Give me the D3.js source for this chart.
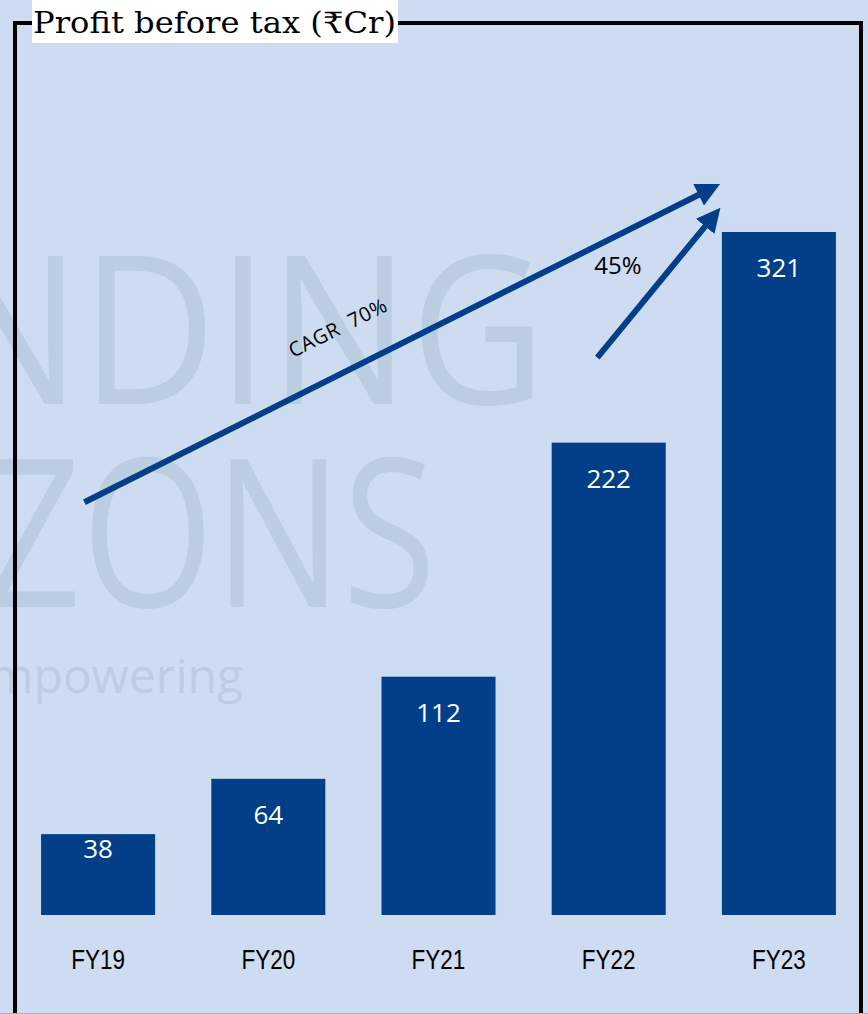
<!DOCTYPE html>
<html>
<head>
<meta charset="utf-8">
<script src="https://cdn.jsdelivr.net/npm/d3@7"></script>
<style>
  html, body { margin: 0; padding: 0; background: #cddcf1; }
  svg { display: block; }
</style>
</head>
<body>
<div id="chart"></div>
<script>
var width = 868,
    height = 1014;

// data
var years = ["FY19", "FY20", "FY21", "FY22", "FY23"];
var pbt = [38, 64, 112, 222, 321];
var title = "Profit before tax (₹Cr)";
var watermark = ["EXPANDING", "HORIZONS", "Empowering"];
// annotation arrows: [category, position inside band, value]
var cagrArrow = [["FY19", 0.38, 194], ["FY23", -0.11, 341]];
var yoyArrow = [["FY22", 0.40, 262], ["FY23", -0.08, 328]];
var cagrLabel = "CAGR  70%";
var yoyLabel = "45%";

var barColor = "#023f88";

var svg = d3.select("#chart").append("svg")
    .attr("width", width)
    .attr("height", height);

svg.append("rect")
    .attr("width", width)
    .attr("height", height)
    .attr("fill", "#cddcf1");

var x = d3.scaleBand()
    .domain(years)
    .range([13, 864])
    .paddingInner(0.33)
    .paddingOuter(0.165);

var y = d3.scaleLinear()
    .domain([0, 321])
    .range([915, 232]);

// watermark
var wm = svg.append("g").attr("class", "watermark")
    .attr("font-family", "'Open Sans', 'Noto Sans', sans-serif")
    .attr("fill", "#bccde1")
    .attr("text-anchor", "end");
wm.append("text").attr("transform", "translate(546,404) scale(0.9,1)")
    .attr("font-size", 208).text(watermark[0]);
wm.append("text").attr("transform", "translate(436,607) scale(0.82,1)")
    .attr("font-size", 208).text(watermark[1]);
wm.append("text").attr("x", 243).attr("y", 693)
    .attr("font-size", 48).text(watermark[2]);

// bars
var bars = svg.append("g").attr("class", "bars");
bars.selectAll("rect")
    .data(pbt)
    .enter()
    .append("rect")
    .attr("x", function(d, i) { return x(years[i]); })
    .attr("y", function(d) { return y(d); })
    .attr("width", x.bandwidth())
    .attr("height", function(d) { return y(0) - y(d); })
    .attr("fill", barColor);

bars.selectAll("text")
    .data(pbt)
    .enter()
    .append("text")
    .attr("x", function(d, i) { return x(years[i]) + x.bandwidth() / 2; })
    .attr("y", function(d) {
        var h = y(0) - y(d);
        return y(d) + Math.min(36, h / 2 - 26);
    })
    .attr("dy", "0.35em")
    .attr("text-anchor", "middle")
    .attr("fill", "#ffffff")
    .attr("font-family", "'Open Sans', 'Noto Sans', sans-serif")
    .attr("font-size", 26)
    .text(function(d) { return d; });

// category labels
svg.append("g").attr("class", "xlabels")
    .selectAll("text")
    .data(years)
    .enter()
    .append("text")
    .attr("transform", function(d) {
        return "translate(" + (x(d) + x.bandwidth() / 2) + ",960) scale(0.9,1.08)";
    })
    .attr("dy", "0.35em")
    .attr("text-anchor", "middle")
    .attr("fill", "#000")
    .attr("font-family", "'Liberation Sans', sans-serif")
    .attr("font-size", 25)
    .text(function(d) { return d; });

// arrows
var defs = svg.append("defs");
defs.append("marker")
    .attr("id", "head")
    .attr("viewBox", "0 0 10 10")
    .attr("refX", 5)
    .attr("refY", 5)
    .attr("markerWidth", 4)
    .attr("markerHeight", 4)
    .attr("markerUnits", "strokeWidth")
    .attr("orient", "auto")
    .append("path")
    .attr("d", "M0,0 L10,5 L0,10 Z")
    .attr("fill", barColor);

function pt(a) {
    return [x(a[0]) + a[1] * x.bandwidth(), y(a[2])];
}

[cagrArrow, yoyArrow].forEach(function(a) {
    var p0 = pt(a[0]), p1 = pt(a[1]);
    svg.append("line")
        .attr("x1", p0[0]).attr("y1", p0[1])
        .attr("x2", p1[0]).attr("y2", p1[1])
        .attr("stroke", barColor)
        .attr("stroke-width", 6)
        .attr("marker-end", "url(#head)");
});

var c0 = pt(cagrArrow[0]), c1 = pt(cagrArrow[1]);
var ang = Math.atan2(c1[1] - c0[1], c1[0] - c0[0]) * 180 / Math.PI;
svg.append("text")
    .attr("transform", "translate(341,334) rotate(" + ang + ")")
    .attr("text-anchor", "middle")
    .attr("font-family", "'Open Sans', 'Noto Sans', sans-serif")
    .attr("font-size", 20)
    .attr("letter-spacing", 0.6)
    .style("white-space", "pre")
    .attr("fill", "#000")
    .text(cagrLabel);

svg.append("text")
    .attr("x", 618)
    .attr("y", 274)
    .attr("text-anchor", "middle")
    .attr("font-family", "'Open Sans', 'Noto Sans', sans-serif")
    .attr("font-size", 24)
    .attr("fill", "#000")
    .text(yoyLabel);

// frame and title
svg.append("path")
    .attr("d", "M32,23 H15 V1020 M398,23 H861 V1020")
    .attr("fill", "none")
    .attr("stroke", "#000")
    .attr("stroke-width", 4);

svg.append("line")
    .attr("x1", 0).attr("x2", width)
    .attr("y1", 1013.5).attr("y2", 1013.5)
    .attr("stroke", "#a9b4c2")
    .attr("stroke-width", 1);

svg.append("rect")
    .attr("x", 32).attr("y", 0)
    .attr("width", 366).attr("height", 43)
    .attr("fill", "#ffffff");

svg.append("text")
    .attr("x", 33)
    .attr("y", 33)
    .attr("font-family", "'DejaVu Serif', 'Liberation Serif', serif")
    .attr("font-size", 29)
    .attr("textLength", 363)
    .attr("lengthAdjust", "spacingAndGlyphs")
    .attr("fill", "#000")
    .text(title);
</script>
</body>
</html>
